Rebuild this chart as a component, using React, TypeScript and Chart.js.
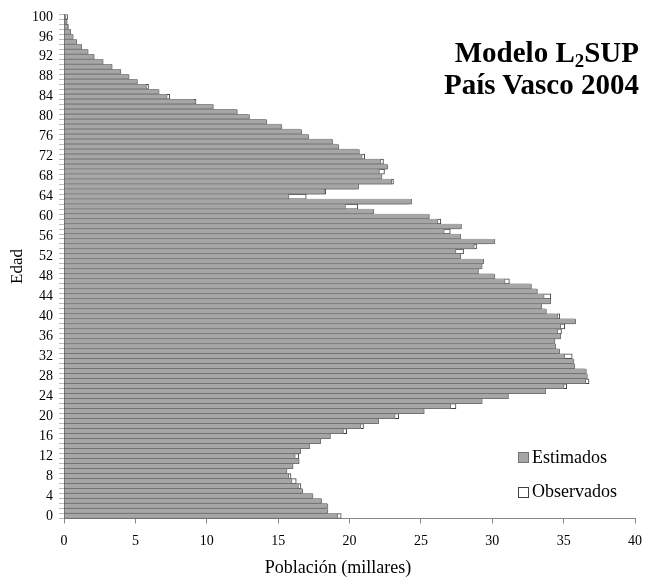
import React, { useEffect, useRef } from 'react';
import { Chart, registerables } from 'chart.js';

Chart.register(...registerables);

const FONT = "'Liberation Serif', 'Times New Roman', serif";

const ages = [
  0, 1, 2, 3, 4, 5, 6, 7, 8, 9, 10, 11, 12, 13, 14, 15, 16, 17, 18, 19, 20,
  21, 22, 23, 24, 25, 26, 27, 28, 29, 30, 31, 32, 33, 34, 35, 36, 37, 38, 39, 40,
  41, 42, 43, 44, 45, 46, 47, 48, 49, 50, 51, 52, 53, 54, 55, 56, 57, 58, 59, 60,
  61, 62, 63, 64, 65, 66, 67, 68, 69, 70, 71, 72, 73, 74, 75, 76, 77, 78, 79, 80,
  81, 82, 83, 84, 85, 86, 87, 88, 89, 90, 91, 92, 93, 94, 95, 96, 97, 98, 99, 100,
];

const yTickLabels = [0, 4, 8, 12, 16, 20, 24, 28, 32, 36, 40, 44, 48, 52, 56, 60, 64, 68, 72, 76, 80, 84, 88, 92, 96, 100];

const estimados = [
  19.18, 18.49, 18.49, 18.07, 17.45, 16.72, 16.43, 15.97, 15.74, 15.62,
  16.05, 16.48, 16.2, 16.58, 17.22, 17.98, 18.67, 19.58, 20.8, 22.05,
  23.2, 25.24, 27.1, 29.3, 31.14, 33.75, 35.03, 36.55, 36.67, 36.6,
  35.78, 35.73, 35.08, 34.73, 34.45, 34.4, 34.8, 34.6, 34.8, 35.85,
  34.6, 33.8, 33.47, 34.1, 33.64, 33.17, 32.75, 30.9, 30.19, 29.04,
  29.3, 29.4, 27.8, 27.46, 28.74, 30.19, 27.8, 26.64, 27.85, 26.2,
  25.6, 21.7, 19.72, 24.36, 15.76, 18.25, 20.65, 22.96, 22.28, 22.1,
  22.68, 22.2, 20.89, 20.7, 19.25, 18.83, 17.15, 16.66, 15.27, 14.2,
  13.0, 12.15, 10.47, 9.14, 7.23, 6.67, 5.78, 5.15, 4.57, 3.99,
  3.38, 2.75, 2.12, 1.7, 1.24, 0.89, 0.65, 0.47, 0.3, 0.15,
  0.12,
];

const observados = [
  19.42, 18.4, 18.4, 18.0, 17.4, 16.65, 16.6, 16.27, 15.9, 15.55,
  16.0, 16.4, 16.45, 16.5, 17.15, 17.9, 18.6, 19.8, 20.98, 21.95,
  23.45, 25.15, 27.46, 29.2, 31.05, 33.65, 35.22, 36.78, 36.55, 36.5,
  35.7, 35.65, 35.6, 34.65, 34.35, 34.3, 34.7, 34.85, 35.08, 35.75,
  34.73, 33.7, 33.4, 34.0, 34.1, 33.1, 32.65, 31.2, 30.1, 28.95,
  29.2, 29.3, 27.7, 27.99, 28.9, 29.7, 27.7, 27.06, 27.75, 26.4,
  25.5, 21.6, 20.58, 24.2, 16.97, 18.34, 20.55, 23.08, 22.2, 22.45,
  22.6, 22.38, 21.07, 20.6, 19.15, 18.75, 17.05, 16.55, 15.2, 14.1,
  12.9, 12.05, 10.4, 9.25, 7.41, 6.6, 5.92, 5.1, 4.5, 3.95,
  3.35, 2.7, 2.1, 1.65, 1.2, 0.85, 0.6, 0.45, 0.3, 0.22,
  0.25,
];

const GRAY = '#a6a6a6';
const GRAY_EDGE = '#737373';

export default function App() {
  const ref = useRef<HTMLCanvasElement>(null);

  useEffect(() => {
    document.body.style.margin = '0';
    const chart = new Chart(ref.current as HTMLCanvasElement, {
      type: 'bar',
      data: {
        labels: ages.map(String),
        datasets: [
          {
            label: 'Estimados',
            data: estimados,
            backgroundColor: GRAY,
            borderColor: GRAY_EDGE,
            borderWidth: { top: 0, left: 0, right: 1, bottom: 1 },
            borderSkipped: false,
            grouped: false,
            barPercentage: 1,
            categoryPercentage: 1,
          },
          {
            label: 'Observados',
            data: observados,
            backgroundColor: '#ffffff',
            borderColor: '#404040',
            borderWidth: 1,
            borderSkipped: false,
            grouped: false,
            barPercentage: 1,
            categoryPercentage: 1,
          },
        ],
      } as any,
      options: {
        indexAxis: 'y',
        responsive: false,
        animation: false,
        layout: { padding: { top: 13.5, right: 15, bottom: 0, left: 0 } },
        plugins: {
          legend: { display: false },
          title: { display: false },
          tooltip: { enabled: false },
        },
        scales: {
          x: {
            type: 'linear',
            min: 0,
            max: 40,
            ticks: {
              stepSize: 5,
              color: '#000',
              font: { family: FONT, size: 14 },
              padding: 9,
            },
            grid: { drawOnChartArea: false, tickLength: 5, color: '#888' },
            border: { color: '#888' },
            title: { display: false },
            afterFit: (s: any) => {
              s.height = 58.5;
            },
          },
          y: {
            type: 'category',
            reverse: true,
            ticks: {
              autoSkip: false,
              color: '#000',
              font: { family: FONT, size: 14 },
              padding: 6,
              callback: (value: any) => {
                const a = ages[value as number];
                return yTickLabels.includes(a) ? String(a) : '';
              },
            },
            grid: { drawOnChartArea: false, tickLength: 5, color: '#bbbbbb' },
            border: { color: '#888' },
            title: {
              display: true,
              text: 'Edad',
              color: '#000',
              font: { family: FONT, size: 17 },
              padding: { top: 7, bottom: 0 },
            },
            afterFit: (s: any) => {
              s.width = 64;
            },
          },
        },
      } as any,
    });
    return () => chart.destroy();
  }, []);

  const legendText: React.CSSProperties = {
    position: 'absolute',
    fontFamily: FONT,
    fontSize: 18,
    lineHeight: '20px',
    color: '#000',
    whiteSpace: 'nowrap',
  };

  return (
    <div style={{ position: 'absolute', left: 0, top: 0, width: 651, height: 577 }}>
      <canvas ref={ref} width={651} height={577} style={{ display: 'block' }} />
      <div
        style={{
          position: 'absolute',
          right: 12,
          top: 36,
          textAlign: 'right',
          fontFamily: FONT,
          fontWeight: 'bold',
          fontSize: 29,
          lineHeight: '32px',
          color: '#000',
          whiteSpace: 'nowrap',
        }}
      >
        <div>
          Modelo L<sub style={{ fontSize: '0.65em', verticalAlign: '-0.25em', lineHeight: 0 }}>2</sub>SUP
        </div>
        <div>País Vasco 2004</div>
      </div>
      <div
        style={{
          position: 'absolute',
          left: 238,
          width: 200,
          top: 556,
          textAlign: 'center',
          fontFamily: FONT,
          fontSize: 18,
          lineHeight: '22px',
          color: '#000',
          whiteSpace: 'nowrap',
        }}
      >
        Población (millares)
      </div>
      <div
        style={{
          position: 'absolute',
          left: 518,
          top: 452,
          width: 9,
          height: 9,
          background: GRAY,
          border: `1px solid ${GRAY_EDGE}`,
        }}
      />
      <div style={{ ...legendText, left: 532, top: 446.5 }}>Estimados</div>
      <div
        style={{
          position: 'absolute',
          left: 518,
          top: 487,
          width: 9,
          height: 9,
          background: '#fff',
          border: '1px solid #404040',
        }}
      />
      <div style={{ ...legendText, left: 532, top: 480.5 }}>Observados</div>
    </div>
  );
}
